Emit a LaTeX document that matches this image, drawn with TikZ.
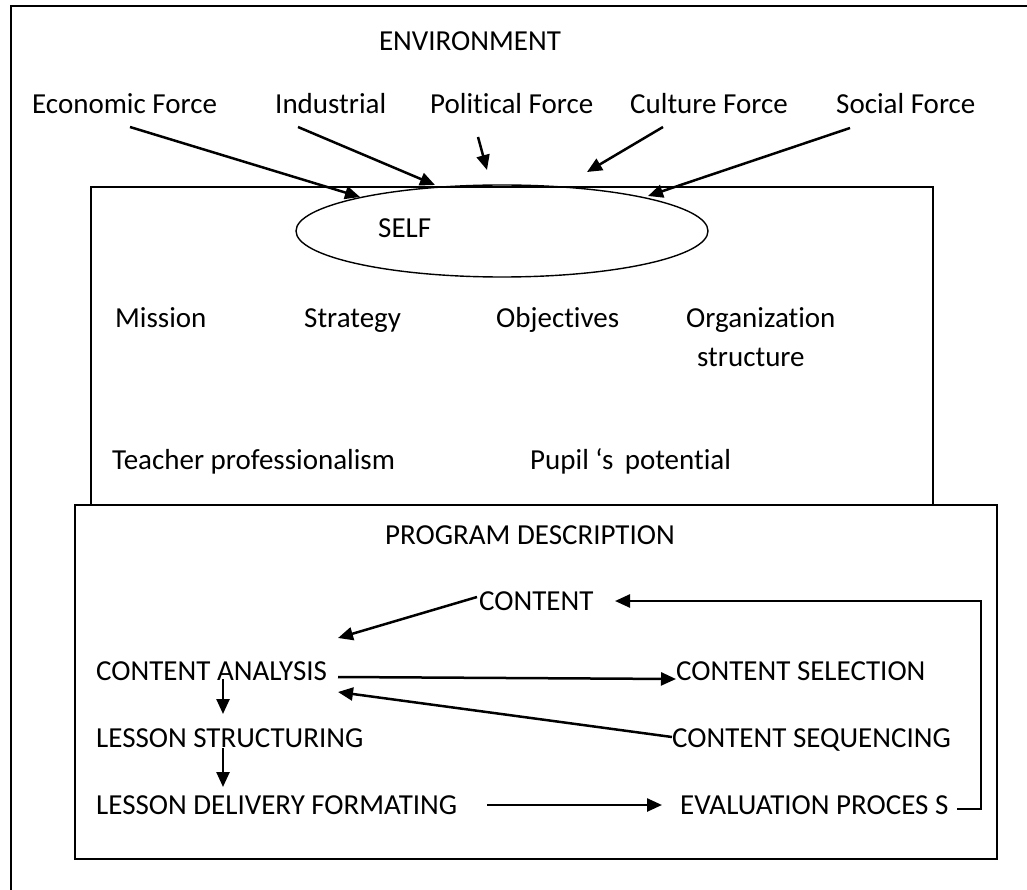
\documentclass[tikz,border=0pt]{standalone}
\usepackage{fontspec}
\setmainfont{Carlito}[Ligatures={NoCommon}]
\usetikzlibrary{arrows.meta,shapes.geometric}
\begin{document}
\begin{tikzpicture}[x=1pt,y=-1pt,
  lbl/.style={inner sep=0pt, anchor=base west, font=\fontsize{29}{34}\selectfont},
  arr/.style={line width=2.5pt, -{Triangle[length=15pt,width=13pt]}},
  box/.style={line width=1.6pt},
]
\useasboundingbox (0,0) rectangle (1027,890);
% outer frame (runs off the page on the right and bottom)
\draw[line width=2.2pt] (11,890) -- (11,6) -- (1027,6);

% boxes
\draw[box] (91,187) rectangle (933,505);
\draw[box,fill=white] (75,505) rectangle (997,859);

% environment labels
\node[lbl, anchor=base] (env) at (470,51) {ENVIRONMENT};
\node[lbl] (eco) at (32,114) {Economic Force};
\node[lbl] (ind) at (275,114) {Industrial};
\node[lbl] (pol) at (430,114) {Political Force};
\node[lbl] (cul) at (630,114) {Culture Force};
\node[lbl] (soc) at (836,114) {Social Force};

% self
\node[draw, ellipse, line width=1.4pt, minimum width=412pt, minimum height=92pt, inner sep=0pt] (selfshape) at (502,231) {};
\node[lbl] (self) at (378,238) {SELF};

% force arrows
\coordinate (ecoS) at (130,127);  \coordinate (ecoE) at (360,197);
\coordinate (indS) at (298,127);  \coordinate (indE) at (435,185);
\coordinate (polS) at (478,137);  \coordinate (polE) at (487,170);
\coordinate (culS) at (663,127);  \coordinate (culE) at (587,172);
\coordinate (socS) at (850,128);  \coordinate (socE) at (648,196);
\draw[arr] (ecoS) -- (ecoE);
\draw[arr] (indS) -- (indE);
\draw[arr] (polS) -- (polE);
\draw[arr] (culS) -- (culE);
\draw[arr] (socS) -- (socE);

% middle box texts
\node[lbl] (mis) at (115,327) {Mission};
\node[lbl] (str) at (304,327) {Strategy};
\node[lbl] (obj) at (496,327) {Objectives};
\node[lbl] (org) at (686,327) {Organization};
\node[lbl] (orgs) at (697,366) {structure};
\node[lbl] (tea) at (112,469) {Teacher professionalism};
\node[lbl] (pup) at (530,469) {Pupil ‘s\, potential};

% program description
\node[lbl] (prog) at (385,544) {PROGRAM DESCRIPTION};
\node[lbl] (cont) at (479,610) {CONTENT};
\node[lbl] (ana) at (96,680) {CONTENT ANALYSIS};
\node[lbl] (sel) at (676,680) {CONTENT SELECTION};
\node[lbl] (les) at (96,747) {LESSON STRUCTURING};
\node[lbl] (seq) at (672,747) {CONTENT SEQUENCING};
\node[lbl] (del) at (96,814) {LESSON DELIVERY FORMATING};
\node[lbl] (eva) at (680,814) {EVALUATION PROCES S};

% program arrows
\coordinate (contS) at (477,597); \coordinate (anaE1) at (338,638);
\coordinate (anaS) at (338,677);  \coordinate (selE) at (676,679);
\coordinate (seqS) at (672,737);  \coordinate (anaE2) at (338,692);
\coordinate (d1S) at (223,679);   \coordinate (d1E) at (223,714);
\coordinate (d2S) at (223,748);   \coordinate (d2E) at (223,787);
\coordinate (delS) at (487,805);  \coordinate (evaE) at (662,805);
\coordinate (evaS) at (957,809);  \coordinate (fbA) at (981,809);
\coordinate (fbB) at (981,601);   \coordinate (contE) at (615,601);
\draw[arr] (contS) -- (anaE1);
\draw[arr] (anaS) -- (selE);
\draw[arr] (seqS) -- (anaE2);
\draw[arr] (d1S) -- (d1E);
\draw[arr] (d2S) -- (d2E);
\draw[arr] (delS) -- (evaE);
\draw[arr] (evaS) -- (fbA) -- (fbB) -- (contE);
\end{tikzpicture}
\end{document}
